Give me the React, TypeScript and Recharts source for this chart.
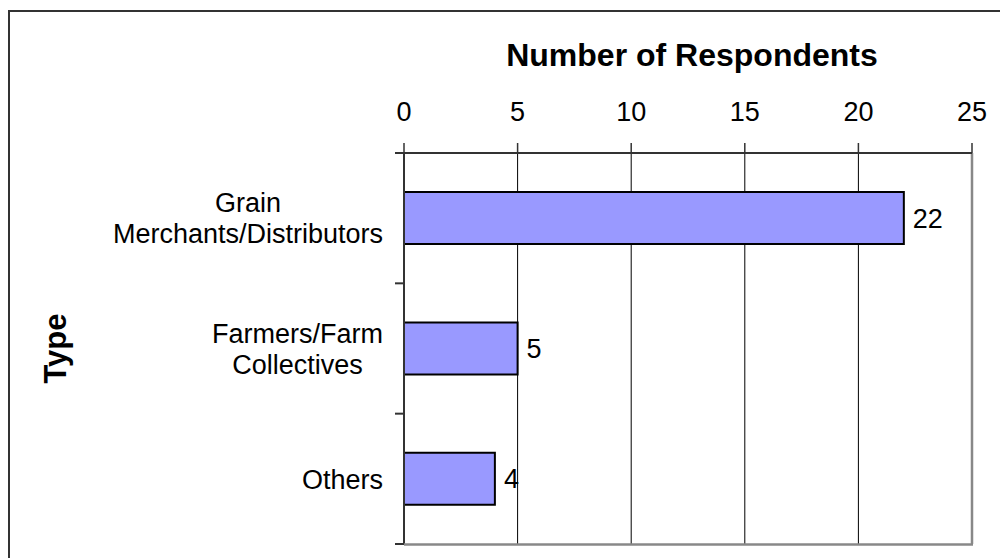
import { BarChart, Bar, XAxis, YAxis, CartesianGrid, ReferenceLine, LabelList } from 'recharts';

const categories = ['Grain\nMerchants/Distributors', 'Farmers/Farm\nCollectives', 'Others'];
const respondents = [22, 5, 4];
const xTicks = [0, 5, 10, 15, 20, 25];

const data = categories.map((type, i) => ({ type, count: respondents[i] }));

const FONT = "'Liberation Sans', Arial, sans-serif";
const CHART_W = 1000;
const CHART_H = 558;
const margin = { top: 0, right: 28, bottom: 14, left: 0 };
const X_AXIS_H = 153;
const Y_AXIS_W = 404;
const PLOT_RIGHT = CHART_W - margin.right;
const PLOT_TOP = margin.top + X_AXIS_H;
const PLOT_BOTTOM = CHART_H - margin.bottom;
const BAND = (PLOT_BOTTOM - PLOT_TOP) / categories.length;
const LABEL_SIZE = 27;
const LINE_H = 31;

let ctx: CanvasRenderingContext2D | null = null;
const measure = (text: string) => {
  if (!ctx) {
    ctx = document.createElement('canvas').getContext('2d');
  }
  if (!ctx) return text.length * LABEL_SIZE * 0.5;
  ctx.font = `${LABEL_SIZE}px ${FONT}`;
  return ctx.measureText(text).width;
};

// multi-line category label, centred as a block and right-aligned to the axis,
// plus tick marks at the band edges (the last one also closes the plot at the bottom)
const CategoryTick = (props: any) => {
  const { x, y, payload, index } = props;
  const lines = String(payload.value).split('\n');
  const blockW = Math.max(...lines.map(measure));
  const cx = x - blockW / 2;
  const firstBaseline = y - ((lines.length - 1) * LINE_H) / 2 + LABEL_SIZE * 0.36;
  const last = index === categories.length - 1;
  return (
    <g>
      <line x1={Y_AXIS_W - 9} x2={Y_AXIS_W} y1={y - BAND / 2} y2={y - BAND / 2} stroke="#333" strokeWidth={2} />
      {last && (
        <>
          <line x1={Y_AXIS_W} x2={PLOT_RIGHT + 1} y1={y + BAND / 2 + 0.5} y2={y + BAND / 2 + 0.5} stroke="#888" strokeWidth={2.5} />
          <line x1={Y_AXIS_W - 9} x2={Y_AXIS_W} y1={y + BAND / 2} y2={y + BAND / 2} stroke="#333" strokeWidth={2} />
        </>
      )}
      <text textAnchor="middle" fontSize={LABEL_SIZE} fontFamily={FONT} fill="#000">
        {lines.map((line, i) => (
          <tspan key={i} x={cx} y={firstBaseline + i * LINE_H}>
            {line}
          </tspan>
        ))}
      </text>
    </g>
  );
};

const TypeLabel = (props: any) => {
  const { viewBox } = props;
  const cy = viewBox.y + viewBox.height / 2;
  return (
    <text
      transform={`translate(66, ${cy}) rotate(-90)`}
      textAnchor="middle"
      fontSize={31}
      fontWeight="bold"
      fontFamily={FONT}
      fill="#000"
    >
      Type
    </text>
  );
};

const App = () => {
  return (
    <div style={{ position: 'fixed', left: 0, top: 0, width: CHART_W, height: CHART_H, background: '#fff', overflow: 'hidden' }}>
      <div
        style={{
          position: 'absolute',
          left: 8,
          top: 10,
          width: 1100,
          height: 700,
          borderLeft: '2px solid #333',
          borderTop: '2px solid #333',
        }}
      />
      <div style={{ position: 'absolute', left: 0, top: 0 }}>
        <BarChart
          width={CHART_W}
          height={CHART_H}
          data={data}
          layout="vertical"
          margin={margin}
          barCategoryGap="30%"
          style={{ fontFamily: FONT }}
        >
          <CartesianGrid horizontal={false} vertical stroke="#000" strokeWidth={1} xAxisId="top" />
          <XAxis
            xAxisId="top"
            type="number"
            orientation="top"
            domain={[0, 25]}
            ticks={xTicks}
            interval={0}
            height={X_AXIS_H}
            tickSize={10}
            tickMargin={22}
            axisLine={{ stroke: '#333', strokeWidth: 2 }}
            tickLine={{ stroke: '#333', strokeWidth: 1.5 }}
            tick={{ fill: '#000', fontSize: LABEL_SIZE, fontFamily: FONT }}
            label={{
              value: 'Number of Respondents',
              position: 'insideTop',
              offset: 43,
              dx: 4,
              fontSize: 32,
              fontWeight: 'bold',
              fill: '#000',
              fontFamily: FONT,
            }}
          />
          <YAxis
            type="category"
            dataKey="type"
            width={Y_AXIS_W}
            tickSize={8}
            tickMargin={13}
            tickLine={false}
            axisLine={{ stroke: '#333', strokeWidth: 2 }}
            tick={<CategoryTick />}
            interval={0}
            label={{ content: <TypeLabel /> }}
          />
          <ReferenceLine xAxisId="top" x={25} stroke="#888" strokeWidth={2.5} />
          <Bar
            xAxisId="top"
            dataKey="count"
            fill="#9999FF"
            stroke="#000"
            strokeWidth={2}
            isAnimationActive={false}
          >
            <LabelList
              dataKey="count"
              position="right"
              offset={9}
              fontSize={LABEL_SIZE}
              fontFamily={FONT}
              fill="#000"
            />
          </Bar>
        </BarChart>
      </div>
    </div>
  );
};

export default App;
